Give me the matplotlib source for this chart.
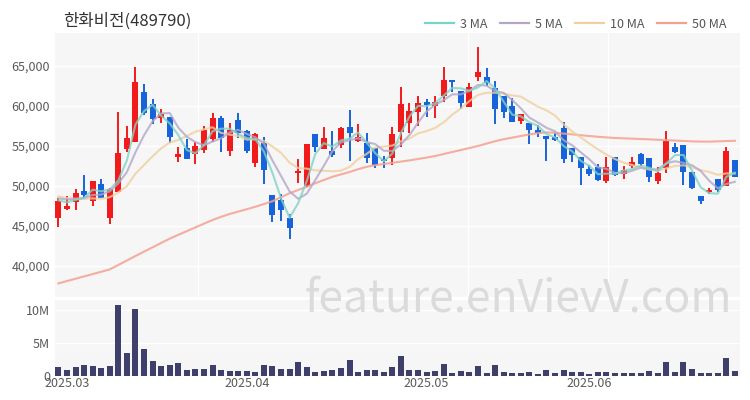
import matplotlib
matplotlib.use('Agg')
import matplotlib.pyplot as plt
from matplotlib.lines import Line2D
from matplotlib.ticker import FuncFormatter
import numpy as np
import pandas as pd

plt.rcParams['font.family'] = ['Noto Sans CJK KR', 'DejaVu Sans']

title = '한화비전(489790)'

opens = [45960, 47080, 48040, 49380, 48120, 50250, 45960, 49290, 54580, 55460,
         61790, 60250, 58460, 58580, 53670, 54710, 54000, 54500, 55830, 58460,
         54420, 58250, 56880, 52920, 55420, 48880, 48250, 45960, 51670, 50040,
         56460, 54620, 54420, 55120, 57420, 55670, 55420, 54710, 53380, 53540,
         56710, 57830, 59210, 60540, 60040, 61290, 63250, 61920, 59830, 63670,
         63670, 62210, 61290, 60000, 58120, 57920, 57000, 56290, 56080, 57290,
         54790, 53670, 52120, 52420, 50670, 53580, 51500, 52540, 53960, 53540,
         50670, 52210, 54920, 55120, 51790, 48790, 49210, 50880, 50040, 53250]
highs = [48460, 48790, 49620, 51380, 50670, 50880, 49710, 59290, 57500, 64830,
         62750, 60830, 59620, 58580, 54830, 55830, 55540, 57540, 59080, 58700,
         57830, 59080, 57000, 56580, 56080, 48880, 49000, 46500, 53330, 55210,
         56460, 57330, 56880, 57420, 59500, 57750, 56670, 54710, 53790, 57330,
         62330, 60420, 61290, 60880, 61290, 64920, 63250, 61920, 62830, 67330,
         64790, 63170, 61290, 61040, 58960, 57920, 57620, 56290, 56580, 57960,
         54790, 53670, 52620, 52710, 53580, 53670, 52540, 53670, 54080, 53540,
         52330, 56920, 55330, 55120, 51790, 48790, 49710, 50880, 54830, 53250]
lows = [44920, 47000, 47000, 48460, 47500, 48460, 45250, 49290, 54290, 55460,
        58880, 57710, 57920, 55330, 52960, 53330, 52710, 54080, 55540, 54210,
        53790, 55960, 54080, 52330, 50210, 45540, 45670, 43330, 50420, 49920,
        54290, 54580, 53670, 54710, 53170, 55540, 52830, 52210, 52210, 52620,
        54920, 56580, 57540, 58580, 58460, 60540, 61790, 59620, 59830, 63170,
        62540, 57750, 58540, 57960, 57750, 55210, 56080, 53170, 55620, 52830,
        52960, 50120, 51290, 50670, 50420, 51290, 50880, 52210, 52540, 50540,
        50250, 51670, 54080, 50120, 49620, 47710, 48960, 49210, 50040, 51080]
closes = [48170, 47540, 49080, 48880, 50670, 48460, 49580, 54080, 55960, 63040,
          59080, 58330, 58960, 56170, 53960, 53330, 55000, 57000, 58540, 55960,
          57000, 56580, 54420, 56500, 52000, 46380, 47000, 44710, 51880, 55210,
          54920, 55960, 53880, 57290, 56580, 56170, 53540, 52620, 53120, 56460,
          60250, 59380, 60420, 60120, 60540, 63250, 62960, 60420, 62330, 64210,
          62830, 59580, 59210, 57960, 58960, 57000, 56580, 55880, 55750, 53380,
          53880, 52210, 51460, 50750, 52420, 51380, 52000, 52960, 52710, 51170,
          51670, 55620, 54290, 51710, 49710, 48120, 49500, 49500, 54420, 51080]
volumes_m = [1.39, 0.88, 1.39, 1.70, 1.44, 1.19, 1.50, 10.8, 3.45, 10.1,
             4.07, 2.32, 1.44, 1.65, 1.90, 0.93, 1.03, 1.03, 1.60, 0.85,
             0.82, 0.82, 0.77, 0.62, 1.60, 1.50, 1.03, 1.13, 2.06, 1.34,
             0.67, 0.82, 0.88, 1.19, 2.37, 0.57, 0.88, 0.98, 0.62, 1.39,
             3.04, 0.98, 0.93, 0.67, 0.72, 1.80, 0.46, 0.72, 0.67, 1.55,
             0.52, 1.65, 0.62, 0.52, 0.46, 0.62, 0.36, 0.88, 0.46, 0.98,
             0.62, 0.62, 0.36, 0.67, 0.67, 0.52, 0.52, 0.52, 0.52, 0.72,
             0.46, 2.16, 0.57, 2.11, 1.13, 0.52, 0.52, 0.52, 2.78, 0.72]

# first values of the short moving averages (depend on days before the window)
ma3_head = [48200, 47950]
ma5_head = [48450, 48300, 48400, 48500]
ma10_head = [48700, 48500, 48400, 48400, 48450, 48400, 48600, 49200, 50000]
ma50 = [37830, 38120, 38410, 38700, 38990, 39280, 39580, 40130, 40690, 41250,
        41800, 42340, 42880, 43420, 43900, 44360, 44830, 45290, 45750, 46150,
        46500, 46800, 47100, 47400, 47750, 48100, 48600, 49100, 49500, 49900,
        50350, 50750, 51150, 51450, 51750, 52100, 52400, 52600, 52750, 52900,
        53050, 53200, 53380, 53550, 53750, 54000, 54250, 54500, 54750, 55000,
        55300, 55600, 55850, 56050, 56250, 56450, 56600, 56700, 56650, 56550,
        56450, 56350, 56250, 56150, 56080, 56000, 55960, 55920, 55880, 55830,
        55780, 55730, 55680, 55630, 55580, 55550, 55550, 55580, 55620, 55650]

month_ticks = [1, 22, 43, 62]
month_labels = ['2025.03', '2025.04', '2025.05', '2025.06']
price_ticks = [40000, 45000, 50000, 55000, 60000, 65000]
vol_ticks = [0, 5, 10]
vol_labels = ['0', '5M', '10M']

UP = '#f21b1b'
DOWN = '#1763d9'
BG = '#f6f6f6'
c3, c5, c10, c50 = '#7fd3c6', '#b3a6c9', '#f0cf9e', '#f4a08f'

o = np.array(opens, float); h = np.array(highs, float)
l = np.array(lows, float); c = np.array(closes, float)
x = np.arange(len(c))
s = pd.Series(c)
ma3 = s.rolling(3).mean().to_numpy(); ma3[:2] = ma3_head
ma5 = s.rolling(5).mean().to_numpy(); ma5[:4] = ma5_head
ma10 = s.rolling(10).mean().to_numpy(); ma10[:9] = ma10_head

fig = plt.figure(figsize=(7.5, 4), dpi=100)
L, R = 55 / 750, 740 / 750
ax = fig.add_axes([L, 1 - 297 / 400, R - L, 264 / 400])
axv = fig.add_axes([L, 1 - 376 / 400, R - L, 76 / 400], sharex=ax)

for a in (ax, axv):
    a.set_facecolor(BG)
    for sp in a.spines.values():
        sp.set_visible(False)
    a.tick_params(length=0, labelsize=9, colors='#5a5a5a')

ax.set_ylim(36125, 69125)
ax.set_yticks(price_ticks)
ax.yaxis.set_major_formatter(FuncFormatter(lambda v, p: f'{int(v):,}'))
ax.grid(axis='y', color='white', linewidth=1)
for vx in [16.3, 47.8, 64.2]:
    ax.axvline(vx, color='white', linewidth=1, zorder=0.5)
ax.set_axisbelow(True)

colors = [UP if cc >= oo else DOWN for oo, cc in zip(o, c)]
ax.vlines(x, l, h, colors=colors, linewidth=1.4, zorder=2)
body_bottom = np.minimum(o, c)
body_h = np.maximum(np.abs(c - o), 120)
ax.bar(x, body_h, bottom=body_bottom, width=0.7, color=colors, zorder=3)

ax.plot(x, ma50, color=c50, lw=1.5, alpha=0.85, zorder=4)
ax.plot(x, ma10, color=c10, lw=1.5, alpha=0.8, zorder=4)
ax.plot(x, ma5, color=c5, lw=1.5, alpha=0.8, zorder=4)
ax.plot(x, ma3, color=c3, lw=1.5, alpha=0.8, zorder=4)

ax.set_xlim(-0.4, 79.6)
plt.setp(ax.get_xticklabels(), visible=False)

axv.bar(x, np.array(volumes_m) * 1e6, width=0.7, color='#3f3f6b', zorder=3)
axv.set_ylim(0, 11.5e6)
axv.set_yticks([v * 1e6 for v in vol_ticks])
axv.set_yticklabels(vol_labels)
axv.grid(axis='y', color='white', linewidth=1)
axv.set_axisbelow(True)
axv.set_xticks(month_ticks)
axv.set_xticklabels(month_labels)
axv.tick_params(axis='x', pad=1)

fig.text(63 / 750, 1 - 21 / 400, title, fontsize=12, color='#333333', va='center', ha='left')

handles = [Line2D([], [], color=cc, lw=1.6) for cc in (c3, c5, c10, c50)]
fig.legend(handles, ['3 MA', '5 MA', '10 MA', '50 MA'], loc='center right',
           bbox_to_anchor=(738 / 750, 1 - 24 / 400), ncol=4, frameon=False,
           fontsize=9, handlelength=2.3, columnspacing=1.0, handletextpad=0.5,
           labelcolor='#555555')

fig.text(518 / 750, 1 - 298 / 400, 'feature.enVievV.com', fontsize=32,
         color='#dbdbdb', ha='center', va='center')

fig.savefig('out.png', dpi=100, facecolor='white')
